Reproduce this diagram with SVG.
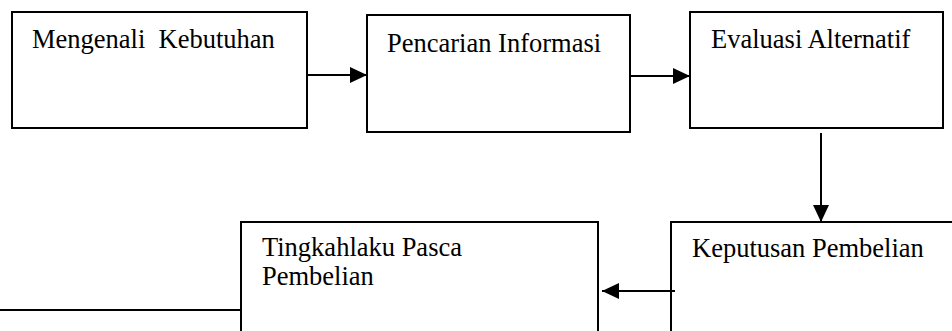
<svg xmlns="http://www.w3.org/2000/svg" width="952" height="331" viewBox="0 0 952 331">
<style>
.box{fill:none;stroke:#000;stroke-width:2}
.lbl{font-family:"Liberation Serif","Times New Roman",serif;font-size:26.5px;fill:#000}
.con{fill:none;stroke:#000;stroke-width:2}
</style>
<defs>
<marker id="ah" viewBox="0 0 17 16" refX="17" refY="8" markerWidth="17" markerHeight="16" markerUnits="userSpaceOnUse" orient="auto">
<path d="M0,0 L17,8 L0,16 Z" fill="#000"/>
</marker>
</defs>
<rect width="952" height="331" fill="#fff"/>
<g id="mengenali">
<rect class="box" x="12" y="12" width="295" height="116"/>
<text class="lbl" x="32" y="48" xml:space="preserve">Mengenali  Kebutuhan</text>
</g>
<g id="pencarian">
<rect class="box" x="367" y="15" width="263" height="117"/>
<text class="lbl" x="387" y="52">Pencarian Informasi</text>
</g>
<g id="evaluasi">
<rect class="box" x="690" y="12" width="253" height="116"/>
<text class="lbl" x="711" y="48">Evaluasi Alternatif</text>
</g>
<g id="keputusan">
<path class="box" d="M671,340 L671,222 L960,222"/>
<text class="lbl" x="692" y="257">Keputusan Pembelian</text>
</g>
<g id="tingkahlaku">
<path class="box" d="M241,340 L241,222 L598,222 L598,340"/>
<text class="lbl" x="262" y="256">Tingkahlaku Pasca</text>
<text class="lbl" x="262" y="285">Pembelian</text>
</g>
<g id="connectors">
<line class="con" x1="307" y1="75" x2="367" y2="75" marker-end="url(#ah)"/>
<line class="con" x1="630" y1="76" x2="690" y2="76" marker-end="url(#ah)"/>
<line class="con" x1="821" y1="133" x2="821" y2="222" marker-end="url(#ah)"/>
<line class="con" x1="675" y1="291" x2="602" y2="291" marker-end="url(#ah)"/>
<line class="con" x1="0" y1="310" x2="241" y2="310"/>
</g>
</svg>
